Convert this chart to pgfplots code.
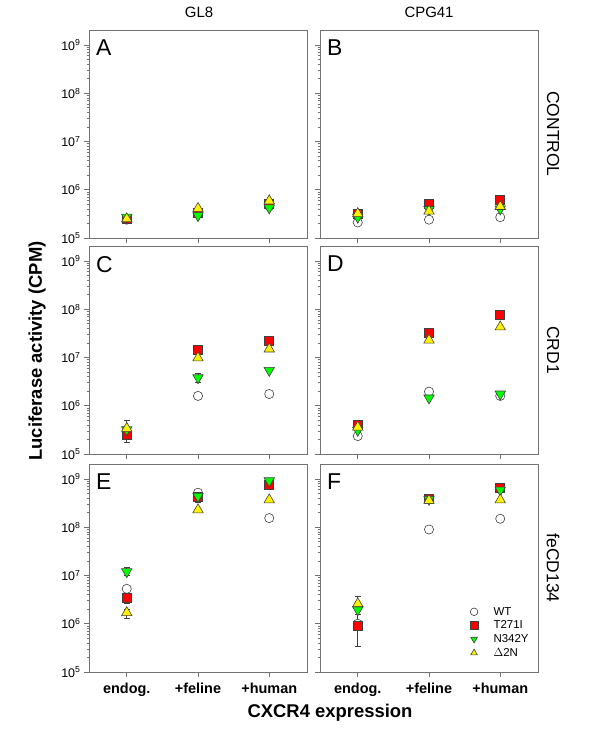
\documentclass[border=0pt]{standalone}
\usepackage{pgfplots}
\pgfplotsset{compat=1.18}
\usepackage{fontspec}
\setmainfont{Liberation Sans}

\definecolor{framegray}{gray}{0.45}
\definecolor{edge}{gray}{0.25}

\pgfplotsset{
  mypanel/.style={
    scale only axis, width=218bp, height=208bp,
    ymin=1e5, ymax=2.05e9,
    xmin=-0.53, xmax=2.53, xtick={0,1,2}, xticklabels={},
    ytick={1e5,1e6,1e7,1e8,1e9},
    minor ytick={2e5,3e5,4e5,5e5,6e5,7e5,8e5,9e5,
                 2e6,3e6,4e6,5e6,6e6,7e6,8e6,9e6,
                 2e7,3e7,4e7,5e7,6e7,7e7,8e7,9e7,
                 2e8,3e8,4e8,5e8,6e8,7e8,8e8,9e8},
    tick pos=left, tick align=outside,
    major tick length=5bp, minor tick length=2.5bp,
    axis line style={draw=framegray, line width=0.8bp},
    every tick/.style={draw=framegray, line width=0.6bp},
    yticklabels={},
    tick label style={font=\fontsize{12.5}{14}\selectfont},
    clip=false,
  },
  myleft/.style={yticklabel={10\textsuperscript{\pgfmathparse{int(round(\tick/ln(10)))}\pgfmathresult}}},
  mybottom/.style={xticklabels={\textbf{endog.},\textbf{+feline},\textbf{+human}},
    xticklabel style={font=\fontsize{14.5}{16}\selectfont, yshift=-3bp}},
  mywt/.style={only marks, mark=*, mark size=4.6bp, mark options={fill=white, draw=edge, line width=0.6bp}},
  myt/.style={only marks, mark=square*, mark size=4.5bp, mark options={fill=red, draw=edge, line width=0.6bp}},
  myn/.style={only marks, mark=triangle*, mark size=6bp, mark options={fill=green, draw=edge, line width=0.6bp, rotate=180}},
  myd/.style={only marks, mark=triangle*, mark size=6bp, mark options={fill=yellow, draw=edge, line width=0.6bp}},
  myeb/.style={only marks, mark=none, forget plot,
    error bars/.cd, y dir=both, y explicit,
    error bar style={draw=edge, line width=0.7bp},
    error mark options={rotate=90, mark size=3bp, draw=edge, line width=0.7bp}},
}
\tikzset{myletter/.style={anchor=north west, inner sep=0pt, xshift=7bp, yshift=-10bp, font=\fontsize{23}{24}\selectfont}}

\begin{document}
\begin{tikzpicture}
\useasboundingbox (0,0) rectangle (600bp,743bp);

% A: GL8, CONTROL
\begin{semilogyaxis}[mypanel, myleft, at={(89bp,505bp)}, anchor=south west]
  \addplot[mywt] coordinates {(0,2.4e5) (1,3.3e5) (2,4.6e5)};
  \addplot[myt] coordinates {(0,2.5e5) (1,3.4e5) (2,5.0e5)};
  \addplot[myn] coordinates {(0,2.7e5) (1,2.9e5) (2,4.2e5)};
  \addplot[myd] coordinates {(0,2.5e5) (1,4.1e5) (2,5.9e5)};
  \node[myletter] at (rel axis cs:0,1) {A};
\end{semilogyaxis}

% B: CPG41, CONTROL
\begin{semilogyaxis}[mypanel, at={(320bp,505bp)}, anchor=south west]
  \addplot[mywt] coordinates {(0,2.1e5) (1,2.4e5) (2,2.7e5)};
  \addplot[myt] coordinates {(0,3.1e5) (1,5.0e5) (2,6.1e5)};
  \addplot[myn] coordinates {(0,2.7e5) (1,3.9e5) (2,4.0e5)};
  \addplot[myd] coordinates {(0,3.2e5) (1,3.6e5) (2,4.5e5)};
  \node[myletter] at (rel axis cs:0,1) {B};
\end{semilogyaxis}

% C: GL8, CRD1
\begin{semilogyaxis}[mypanel, myleft, at={(89bp,289bp)}, anchor=south west]
  \addplot[myeb] coordinates {(0,2.5e5) += (0,0) -= (0,0.75e5)
    (0,3.4e5) += (0,1.5e5) -= (0,0)
    (1,3.8e6) += (0,0.8e6) -= (0,0.7e6)};
  \addplot[mywt] coordinates {(0,2.8e5) (1,1.6e6) (2,1.75e6)};
  \addplot[myt] coordinates {(0,2.5e5) (1,1.45e7) (2,2.2e7)};
  \addplot[myn] coordinates {(0,3.2e5) (1,3.8e6) (2,5.4e6)};
  \addplot[myd] coordinates {(0,3.4e5) (1,9.8e6) (2,1.5e7)};
  \node[myletter] at (rel axis cs:0,1) {C};
\end{semilogyaxis}

% D: CPG41, CRD1
\begin{semilogyaxis}[mypanel, at={(320bp,289bp)}, anchor=south west]
  \addplot[mywt] coordinates {(0,2.35e5) (1,1.96e6) (2,1.6e6)};
  \addplot[myt] coordinates {(0,4.1e5) (1,3.2e7) (2,7.8e7)};
  \addplot[myn] coordinates {(0,3.1e5) (1,1.45e6) (2,1.75e6)};
  \addplot[myd] coordinates {(0,3.6e5) (1,2.3e7) (2,4.3e7)};
  \node[myletter] at (rel axis cs:0,1) {D};
\end{semilogyaxis}

% E: GL8, feCD134
\begin{semilogyaxis}[mypanel, myleft, mybottom, at={(89bp,71bp)}, anchor=south west]
  \addplot[myeb] coordinates {(0,3.4e6) += (0,0.6e6) -= (0,0.8e6)
    (0,1.2e7) += (0,0.3e7) -= (0,0.2e7)
    (0,1.7e6) += (0,0.3e6) -= (0,0.4e6)
    (1,4.4e8) += (0,1.0e8) -= (0,1.1e8)};
  \addplot[mywt] coordinates {(0,5.3e6) (1,5.2e8) (2,1.55e8)};
  \addplot[myt] coordinates {(0,3.4e6) (1,4.3e8) (2,7.6e8)};
  \addplot[myn] coordinates {(0,1.2e7) (1,4.4e8) (2,9.2e8)};
  \addplot[myd] coordinates {(0,1.7e6) (1,2.3e8) (2,3.7e8)};
  \node[myletter] at (rel axis cs:0,1) {E};
\end{semilogyaxis}

% F: CPG41, feCD134
\begin{semilogyaxis}[mypanel, mybottom, at={(320bp,71bp)}, anchor=south west,
    legend cell align=left,
    legend style={draw=none, fill=none, at={(rel axis cs:0.66,0.32)}, anchor=north west,
      font=\fontsize{11.5}{13}\selectfont, row sep=1.2bp, inner sep=0pt,
      nodes={inner sep=1.5bp}},
    legend image code/.code={\path[draw=none, fill=none] (0bp,-3bp) (28bp,3bp);
      \draw[mark size=3.8bp, #1] plot coordinates {(10bp,0bp)};}]
  \addplot[myeb] coordinates {(0,9e5) += (0,7e5) -= (0,5.6e5)
    (0,1.95e6) += (0,0.35e6) -= (0,0.35e6)
    (0,2.6e6) += (0,1.1e6) -= (0,0.6e6)};
  \addplot[mywt] coordinates {(0,1.0e6) (1,9e7) (2,1.5e8)};
  \addplot[myt] coordinates {(0,9e5) (1,3.8e8) (2,6.5e8)};
  \addplot[myn] coordinates {(0,1.95e6) (1,3.8e8) (2,5.9e8)};
  \addplot[myd] coordinates {(0,2.6e6) (1,3.6e8) (2,3.7e8)};
  \legend{WT, T271I, N342Y, $\Delta$2N}
  \node[myletter] at (rel axis cs:0,1) {F};
\end{semilogyaxis}

\node[font=\fontsize{15}{16}\selectfont] at (199bp,731bp) {GL8};
\node[font=\fontsize{15}{16}\selectfont] at (429bp,731bp) {CPG41};
\node[font=\fontsize{17.5}{18}\selectfont, rotate=-90] at (553bp,609bp) {CONTROL};
\node[font=\fontsize{17.5}{18}\selectfont, rotate=-90] at (553bp,393bp) {CRD1};
\node[font=\fontsize{17.5}{18}\selectfont, rotate=-90] at (553bp,175bp) {feCD134};
\node[font=\bfseries\fontsize{18.5}{20}\selectfont, rotate=90] at (37bp,392bp) {Luciferase activity (CPM)};
\node[font=\bfseries\fontsize{18.5}{20}\selectfont] at (330bp,30bp) {CXCR4 expression};
\end{tikzpicture}
\end{document}
